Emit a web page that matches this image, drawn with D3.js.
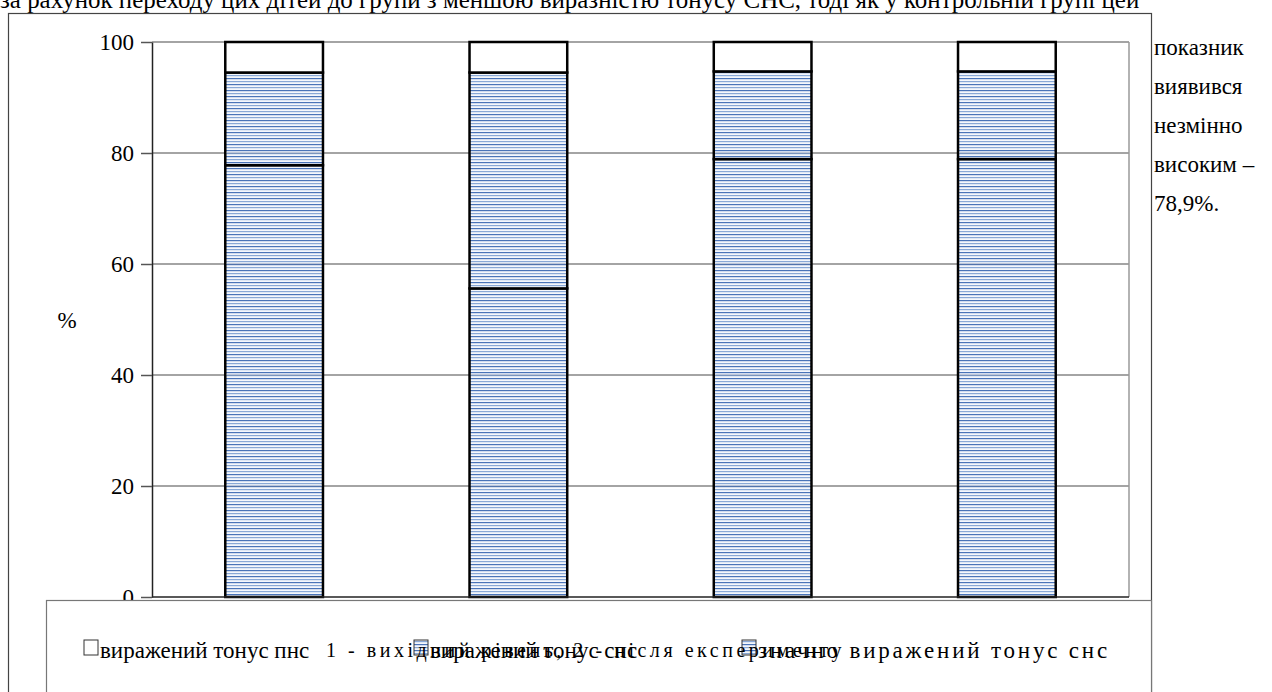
<!DOCTYPE html>
<html lang="uk">
<head>
<meta charset="utf-8">
<script src="https://cdn.jsdelivr.net/npm/d3@7/dist/d3.min.js"></script>
<style>
  html, body { margin: 0; padding: 0; background: #fff; }
  svg { display: block; }
</style>
</head>
<body>
<svg id="chart" width="1272" height="692"></svg>
<script>
// Groups: experimental (before / after), control (before / after)
const categories = ["експ. 1", "експ. 2", "контр. 1", "контр. 2"];
const seriesNames = ["значно виражений тонус снс", "виражений тонус снс", "виражений тонус пнс"];
const strongSNS = [77.8, 55.6, 78.9, 78.9];
const moderateSNS = [16.7, 38.9, 15.8, 15.8];
const tonePNS = [5.5, 5.5, 5.3, 5.3];
const yTicks = [0, 20, 40, 60, 80, 100];
const legendOrder = ["виражений тонус пнс", "виражений тонус снс", "значно виражений тонус снс"];
const axisTitle = "1 - вихідний рівень, 2 - після експерименту";
const textAbove = "за рахунок переходу цих дітей до групи з меншою виразністю тонусу СНС, тоді як у контрольній групі цей";
const textRight = ["показник", "виявився", "незмінно", "високим –", "78,9%."];

const FONT = "'Liberation Serif', 'Times New Roman', Tinos, 'Noto Serif', FreeSerif, 'Nimbus Roman', 'DejaVu Serif', serif";
const svg = d3.select("#chart").style("font-family", FONT);

// fit a text element to a given width by adjusting its font size
function fitWidth(sel, w) {
  sel.each(function () {
    const fs = parseFloat(this.getAttribute("font-size"));
    const cur = this.getComputedTextLength();
    if (cur > 0) this.setAttribute("font-size", (fs * w / cur).toFixed(2));
  });
}
// spread a text element's letters so that it ends at a given width
function spreadTo(el, w) {
  const extra = w - el.getComputedTextLength();
  if (extra > 0) el.setAttribute("letter-spacing", (extra / el.textContent.length).toFixed(2));
}

// Paragraph text around the figure
svg.append("text")
  .attr("x", 0).attr("y", 8)
  .attr("font-size", 24)
  .text(textAbove)
  .call(fitWidth, 1140);

svg.append("rect")
  .attr("x", 8.5).attr("y", 13.5)
  .attr("width", 1143).attr("height", 700)
  .attr("fill", "none").attr("stroke", "#444").attr("stroke-width", 1.2);

svg.append("g").selectAll("text")
  .data(textRight).join("text")
  .attr("x", 1154)
  .attr("y", (d, i) => 55 + i * 39)
  .attr("font-size", 23)
  .text(d => d);

// Chart geometry
const plotL = 152, plotR = 1129, plotT = 42, plotB = 597;

const x = d3.scaleBand().domain(d3.range(categories.length))
  .range([plotL, plotR]).paddingInner(0.6).paddingOuter(0.3);
const y = d3.scaleLinear().domain([0, 100]).range([plotB, plotT]);

// Striped fill
const defs = svg.append("defs");
const pat = defs.append("pattern")
  .attr("id", "stripes").attr("patternUnits", "userSpaceOnUse")
  .attr("width", 8).attr("height", 6);
pat.append("rect").attr("width", 8).attr("height", 6).attr("fill", "#f4f7fc");
pat.append("rect").attr("y", 0).attr("width", 8).attr("height", 1.2).attr("fill", "#4a74b8");
pat.append("rect").attr("y", 3).attr("width", 8).attr("height", 1.2).attr("fill", "#89a8d6");

// Gridlines
svg.append("g").selectAll("line")
  .data(yTicks.filter(v => v > 0)).join("line")
  .attr("x1", plotL).attr("x2", plotR)
  .attr("y1", d => y(d)).attr("y2", d => y(d))
  .attr("stroke", "#868686").attr("stroke-width", 1.5);

svg.append("line")
  .attr("x1", plotR).attr("x2", plotR).attr("y1", plotT).attr("y2", plotB)
  .attr("stroke", "#9a9a9a").attr("stroke-width", 1.5);

// Stacked bars
const rows = categories.map((c, i) => ({ i, strong: strongSNS[i], moderate: moderateSNS[i], pns: tonePNS[i] }));
const stack = d3.stack().keys(["strong", "moderate", "pns"]);
const layers = stack(rows);
const fills = ["url(#stripes)", "url(#stripes)", "#ffffff"];

const gBars = svg.append("g");
layers.forEach((layer, k) => {
  gBars.append("g").selectAll("rect")
    .data(layer).join("rect")
    .attr("x", d => x(d.data.i))
    .attr("width", x.bandwidth())
    .attr("y", d => y(d[1]))
    .attr("height", d => y(d[0]) - y(d[1]))
    .attr("fill", fills[k])
    .attr("stroke", "#000").attr("stroke-width", 2.5);
});

// Gridlines visible through the striped fill
svg.append("g").selectAll("line")
  .data(d3.cross(d3.range(categories.length), yTicks.filter(v => v > 0 && v < 100))
    .filter(d => d[1] < strongSNS[d[0]] + moderateSNS[d[0]]))
  .join("line")
  .attr("x1", d => x(d[0]) + 1.5).attr("x2", d => x(d[0]) + x.bandwidth() - 1.5)
  .attr("y1", d => y(d[1])).attr("y2", d => y(d[1]))
  .attr("stroke", "#5f7396").attr("stroke-width", 1.2).attr("opacity", 0.7);

// Value axis
const yAxis = svg.append("g")
  .attr("transform", `translate(${plotL},0)`)
  .call(d3.axisLeft(y).tickValues(yTicks).tickSize(11).tickPadding(7).tickSizeOuter(0));
yAxis.attr("font-family", null);
yAxis.select(".domain").attr("stroke", "#222").attr("stroke-width", 1.5);
yAxis.selectAll(".tick line").attr("stroke", "#555").attr("stroke-width", 1.5);
yAxis.selectAll(".tick text")
  .attr("font-size", 23).attr("fill", "#000");

svg.append("text")
  .attr("x", 67).attr("y", 328)
  .attr("text-anchor", "middle")
  .attr("font-size", 23)
  .text("%");

// x axis line
svg.append("line")
  .attr("x1", plotL).attr("x2", plotR).attr("y1", plotB).attr("y2", plotB)
  .attr("stroke", "#222").attr("stroke-width", 1.5);

// Legend
svg.append("rect")
  .attr("x", 46.5).attr("y", 600.5)
  .attr("width", 1105).attr("height", 120)
  .attr("fill", "#fff").attr("stroke", "#777").attr("stroke-width", 1.2);

const legendX = [84, 414, 742];
const legendFill = ["#ffffff", "url(#stripes)", "url(#stripes)"];
const lg = svg.append("g").selectAll("g")
  .data(legendOrder).join("g")
  .attr("transform", (d, i) => `translate(${legendX[i]},650)`);
lg.append("rect")
  .attr("x", 0).attr("y", -10).attr("width", 14).attr("height", 15)
  .attr("fill", (d, i) => legendFill[i])
  .attr("stroke", "#333").attr("stroke-width", 1);
lg.append("text")
  .attr("x", 16).attr("y", 8)
  .attr("font-size", 23)
  .text(d => d)
  .each(function (d, i) { if (i === 2) spreadTo(this, 1110 - 758); });

svg.append("text")
  .attr("x", 326).attr("y", 657)
  .attr("font-size", 20)
  .text(axisTitle)
  .each(function () { spreadTo(this, 845 - 326); });
</script>
</body>
</html>
